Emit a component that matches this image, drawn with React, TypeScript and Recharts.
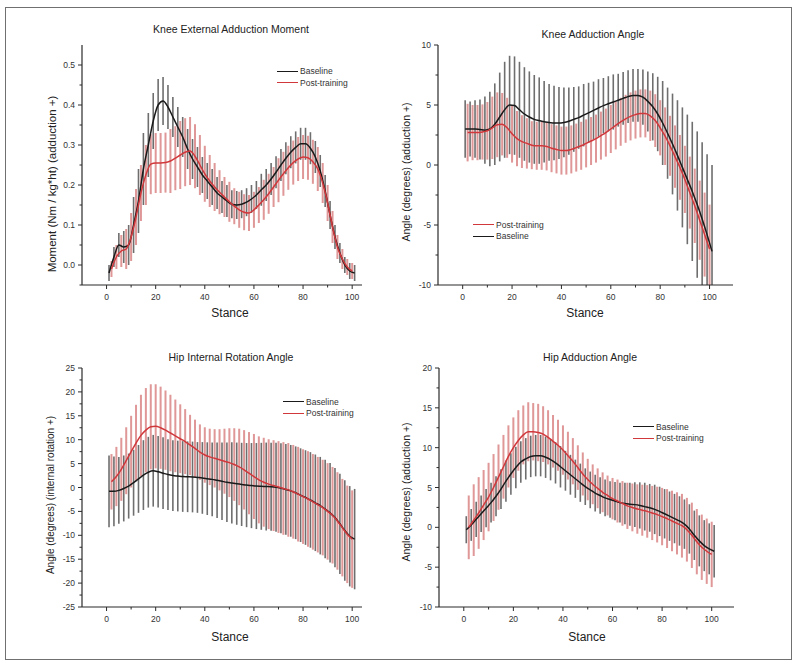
import React from 'react';
import { LineChart, Line, XAxis, YAxis, ErrorBar } from 'recharts';

const FONT = '"Liberation Sans", Arial, sans-serif';

// stance (% of stance phase): baseline bars sit on odd points, post-training on even points
const STANCE_ODD = [1, 3, 5, 7, 9, 11, 13, 15, 17, 19, 21, 23, 25, 27, 29, 31, 33, 35, 37, 39, 41, 43, 45, 47, 49, 51, 53, 55, 57, 59, 61, 63, 65, 67, 69, 71, 73, 75, 77, 79, 81, 83, 85, 87, 89, 91, 93, 95, 97, 99, 101];
const STANCE_EVEN = [2, 4, 6, 8, 10, 12, 14, 16, 18, 20, 22, 24, 26, 28, 30, 32, 34, 36, 38, 40, 42, 44, 46, 48, 50, 52, 54, 56, 58, 60, 62, 64, 66, 68, 70, 72, 74, 76, 78, 80, 82, 84, 86, 88, 90, 92, 94, 96, 98, 100];
const X_TICKS = [0, 10, 20, 30, 40, 50, 60, 70, 80, 90, 100];

// Knee external adduction moment
const KAM_BASE = [
  -0.02, 0.02, 0.05, 0.045, 0.05, 0.1, 0.16, 0.24, 0.3, 0.36,
  0.4, 0.41, 0.395, 0.37, 0.345, 0.32, 0.29, 0.265, 0.245, 0.225,
  0.21, 0.195, 0.18, 0.17, 0.16, 0.152, 0.15, 0.152, 0.157, 0.165,
  0.175, 0.188, 0.2, 0.215, 0.232, 0.25, 0.267, 0.282, 0.294, 0.303,
  0.303, 0.292, 0.27, 0.235, 0.185, 0.125, 0.07, 0.03, 0.0, -0.015, -0.02,
];
const KAM_BASE_SD = [
  0.02, 0.025, 0.03, 0.04, 0.05, 0.07, 0.08, 0.09, 0.08, 0.07,
  0.065, 0.06, 0.055, 0.05, 0.05, 0.05, 0.05, 0.05, 0.05, 0.045,
  0.045, 0.045, 0.04, 0.04, 0.04, 0.035, 0.035, 0.035, 0.035, 0.035,
  0.035, 0.04, 0.04, 0.04, 0.04, 0.04, 0.04, 0.04, 0.04, 0.04,
  0.04, 0.04, 0.04, 0.04, 0.04, 0.035, 0.03, 0.025, 0.02, 0.02, 0.02,
];
const KAM_POST = [
  -0.01, 0.02, 0.035, 0.04, 0.07, 0.12, 0.18, 0.225, 0.252, 0.255,
  0.255, 0.256, 0.26, 0.267, 0.275, 0.282, 0.285, 0.272, 0.25, 0.228,
  0.21, 0.195, 0.182, 0.17, 0.158, 0.147, 0.138, 0.132, 0.13, 0.138,
  0.15, 0.163, 0.178, 0.195, 0.212, 0.228, 0.243, 0.256, 0.265, 0.27,
  0.268, 0.258, 0.24, 0.205, 0.155, 0.095, 0.045, 0.015, -0.005, -0.015,
];
const KAM_POST_SD = [
  0.02, 0.03, 0.04, 0.05, 0.06, 0.07, 0.07, 0.075, 0.075, 0.075,
  0.075, 0.075, 0.08, 0.08, 0.085, 0.085, 0.085, 0.08, 0.075, 0.07,
  0.065, 0.06, 0.055, 0.05, 0.05, 0.045, 0.045, 0.045, 0.045, 0.045,
  0.045, 0.05, 0.05, 0.05, 0.055, 0.055, 0.055, 0.055, 0.055, 0.055,
  0.055, 0.055, 0.055, 0.05, 0.045, 0.04, 0.03, 0.025, 0.02, 0.02,
];

// Knee adduction angle
const KAA_BASE = [
  3.0, 3.0, 3.0, 2.95, 2.9, 3.0, 3.4, 4.0, 4.6, 5.0,
  4.95, 4.6, 4.25, 4.0, 3.8, 3.7, 3.6, 3.55, 3.5, 3.5,
  3.55, 3.65, 3.8, 3.95, 4.15, 4.35, 4.55, 4.75, 4.95, 5.1,
  5.25, 5.4, 5.55, 5.7, 5.8, 5.8, 5.65, 5.3, 4.85, 4.25,
  3.5, 2.65, 1.75, 0.8, -0.2, -1.2, -2.2, -3.3, -4.5, -5.8, -7.2,
];
const KAA_BASE_SD = [
  2.4, 2.3, 2.4, 2.5, 2.8, 3.1, 3.4, 3.7, 4.0, 4.1,
  4.1, 4.0, 3.9, 3.8, 3.7, 3.6, 3.4, 3.2, 3.1, 3.0,
  2.9, 2.8, 2.7, 2.6, 2.6, 2.5, 2.4, 2.4, 2.3, 2.3,
  2.3, 2.2, 2.2, 2.2, 2.2, 2.2, 2.3, 2.5, 2.8, 3.1,
  3.5, 3.8, 4.2, 4.6, 5.0, 5.4, 5.8, 6.1, 6.4, 6.7, 7.2,
];
const KAA_POST = [
  2.7, 2.7, 2.7, 2.75, 2.85, 3.1, 3.35, 3.4, 3.1, 2.6,
  2.2, 1.95, 1.8, 1.65, 1.6, 1.6, 1.55, 1.4, 1.3, 1.2,
  1.2, 1.3, 1.45, 1.6, 1.8, 2.0, 2.2, 2.45, 2.7, 3.0,
  3.3, 3.6, 3.85, 4.05, 4.2, 4.3, 4.3, 4.1, 3.7, 3.1,
  2.4, 1.6, 0.7, -0.2, -1.2, -2.3, -3.4, -4.6, -5.8, -7.0,
];
const KAA_POST_SD = [
  2.4, 2.3, 2.3, 2.3, 2.4, 2.6, 2.7, 2.6, 2.5, 2.4,
  2.3, 2.2, 2.1, 2.0, 2.0, 2.0, 2.0, 2.0, 2.0, 2.0,
  2.0, 2.0, 2.0, 2.0, 2.0, 2.0, 2.0, 2.0, 2.0, 2.0,
  2.0, 2.0, 2.0, 2.0, 2.0, 2.0, 2.0, 2.1, 2.2, 2.3,
  2.4, 2.5, 2.6, 2.7, 2.8, 3.0, 3.1, 3.3, 3.5, 3.7,
];

// Hip internal rotation angle
const HIR_BASE = [
  -0.8, -0.8, -0.6, -0.2, 0.3, 1.0, 1.8, 2.6, 3.2, 3.5,
  3.3, 3.0, 2.7, 2.5, 2.4, 2.3, 2.25, 2.2, 2.1, 2.0,
  1.85, 1.7, 1.5, 1.3, 1.1, 0.95, 0.8, 0.65, 0.5, 0.4,
  0.3, 0.25, 0.2, 0.15, 0.05, -0.15, -0.4, -0.7, -1.1, -1.6,
  -2.1, -2.6, -3.2, -3.8, -4.5, -5.3, -6.3, -7.6, -9.0, -10.2, -10.8,
];
const HIR_BASE_SD = [
  7.5, 7.3, 7.0, 6.9, 6.8, 6.9, 7.1, 7.3, 7.4, 7.5,
  7.5, 7.5, 7.4, 7.4, 7.4, 7.4, 7.4, 7.4, 7.4, 7.5,
  7.6, 7.7, 7.9, 8.1, 8.3, 8.5, 8.6, 8.7, 8.8, 8.9,
  9.0, 9.1, 9.2, 9.2, 9.3, 9.4, 9.5, 9.6, 9.7, 9.8,
  9.9, 10.0, 10.1, 10.2, 10.3, 10.4, 10.4, 10.5, 10.5, 10.5, 10.5,
];
const HIR_POST = [
  1.2, 2.3, 3.8, 5.6, 7.5, 9.3, 10.9, 12.0, 12.7, 12.8,
  12.5, 12.0, 11.4, 10.8, 10.2, 9.6, 8.9, 8.2, 7.4, 6.8,
  6.4, 6.1, 5.8, 5.5, 5.2, 4.8, 4.3, 3.7, 3.0, 2.3,
  1.6, 1.1, 0.7, 0.4, 0.1, -0.2, -0.5, -0.9, -1.4, -1.9,
  -2.4, -3.0, -3.6, -4.2, -5.0, -5.8, -7.0, -8.4, -9.8, -10.8,
];
const HIR_POST_SD = [
  5.8, 6.2, 6.6, 7.0, 7.5, 8.0, 8.5, 8.8, 8.9, 8.8,
  8.6, 8.3, 8.0, 7.6, 7.2, 6.8, 6.3, 6.0, 5.8, 5.8,
  5.9, 6.1, 6.4, 6.8, 7.2, 7.6, 8.0, 8.3, 8.6, 8.9,
  9.1, 9.3, 9.4, 9.5, 9.6, 9.7, 9.8, 9.8, 9.9, 9.9,
  10.0, 10.0, 10.0, 10.0, 10.1, 10.1, 10.2, 10.2, 10.2, 10.2,
];

// Hip adduction angle
const HAA_BASE = [
  -0.3, 0.3, 1.0, 1.7, 2.4, 3.1, 3.9, 4.8, 5.8, 6.7,
  7.5, 8.2, 8.6, 8.9, 9.0, 9.0, 8.8, 8.5, 8.1, 7.6,
  7.1, 6.6, 6.1, 5.6, 5.1, 4.7, 4.3, 4.0, 3.7, 3.5,
  3.3, 3.1, 3.0, 2.9, 2.85, 2.75, 2.6, 2.45, 2.25, 2.0,
  1.7, 1.4, 1.1, 0.8, 0.4, -0.2, -1.0, -1.7, -2.3, -2.7, -3.0,
];
const HAA_BASE_SD = [
  1.7, 2.0, 2.2, 2.3, 2.4, 2.5, 2.5, 2.5, 2.6, 2.6,
  2.6, 2.6, 2.6, 2.6, 2.6, 2.6, 2.6, 2.6, 2.6, 2.6,
  2.5, 2.5, 2.4, 2.4, 2.3, 2.3, 2.3, 2.3, 2.3, 2.3,
  2.4, 2.5, 2.6, 2.7, 2.8, 2.9, 3.0, 3.0, 3.1, 3.1,
  3.1, 3.1, 3.1, 3.1, 3.1, 3.1, 3.1, 3.2, 3.2, 3.2, 3.3,
];
const HAA_POST = [
  0.0, 0.9, 1.8, 2.8, 3.8, 5.0, 6.3, 7.6, 8.9, 10.0,
  10.9, 11.6, 12.0, 12.0, 11.9, 11.7, 11.3, 10.8, 10.3, 9.7,
  9.0, 8.3, 7.5, 6.7, 6.0, 5.4, 4.9, 4.4, 4.0, 3.6,
  3.3, 3.0, 2.7, 2.5, 2.3, 2.15, 2.0, 1.8, 1.6, 1.35,
  1.1, 0.8, 0.5, 0.2, -0.3, -1.0, -1.8, -2.5, -3.0, -3.4,
];
const HAA_POST_SD = [
  4.0, 4.5, 4.5, 4.4, 4.3, 4.2, 4.1, 4.0, 3.9, 3.8,
  3.8, 3.7, 3.7, 3.6, 3.6, 3.5, 3.4, 3.3, 3.2, 3.1,
  3.0, 2.9, 2.8, 2.7, 2.6, 2.5, 2.5, 2.5, 2.5, 2.6,
  2.7, 2.8, 2.9, 3.0, 3.1, 3.2, 3.3, 3.4, 3.5, 3.6,
  3.7, 3.8, 3.9, 4.0, 4.0, 4.1, 4.1, 4.1, 4.1, 4.1,
];

const KAM_Y_TICKS = [-0.05, 0, 0.05, 0.1, 0.15, 0.2, 0.25, 0.3, 0.35, 0.4, 0.45, 0.5];
const KAA_Y_TICKS = [-10, -7.5, -5, -2.5, 0, 2.5, 5, 7.5, 10];
const HIR_Y_TICKS = [-25, -22.5, -20, -17.5, -15, -12.5, -10, -7.5, -5, -2.5, 0, 2.5, 5, 7.5, 10, 12.5, 15, 17.5, 20, 22.5, 25];
const HAA_Y_TICKS = [-10, -7.5, -5, -2.5, 0, 2.5, 5, 7.5, 10, 12.5, 15, 17.5, 20];

// error bars are cut at the plot edges, as in the original figure
const toRows = (xs: number[], mean: number[], sd: number[], dom: [number, number]) =>
  xs.map((x, i) => ({
    x,
    y: mean[i],
    e: [Math.min(sd[i], mean[i] - dom[0]), Math.min(sd[i], dom[1] - mean[i])],
  }));

const isMajor = (v: number, step: number) => Math.abs(Math.round(v / step) * step - v) < 1e-9;

const INK = '#2a2a2a';

function XTick(props: any) {
  const { x, y, payload } = props;
  const v = payload.value;
  const major = v % 20 === 0;
  return (
    <g>
      <line x1={x} x2={x} y1={y} y2={y + (major ? 4 : 2.5)} stroke={INK} strokeWidth={1} />
      {major && (
        <text x={x} y={y + 15} textAnchor="middle" fontSize={8.5} fill="#333" fontFamily={FONT}>
          {v}
        </text>
      )}
    </g>
  );
}

function makeYTick(step: number, digits: number) {
  return (props: any) => {
    const { x, y, payload } = props;
    const v = payload.value;
    const major = isMajor(v, step);
    return (
      <g>
        <line x1={x - (major ? 4 : 2.5)} x2={x} y1={y} y2={y} stroke={INK} strokeWidth={1} />
        {major && (
          <text x={x - 7} y={y + 3} textAnchor="end" fontSize={8.5} fill="#333" fontFamily={FONT}>
            {v.toFixed(digits)}
          </text>
        )}
      </g>
    );
  };
}

type Row = { x: number; y: number; e: number[] };

type PanelProps = {
  left: number;
  top: number;
  margin: { top: number; right: number; bottom: number; left: number };
  xDomain: [number, number];
  yDomain: [number, number];
  yTicks: number[];
  yStep: number;
  digits: number;
  base: Row[];
  post: Row[];
  title: string;
  titlePos: [number, number];
  yLabel: string;
  yLabelPos: [number, number];
  yLabelSize: number;
  stancePos: [number, number];
  legendPos: [number, number];
  postFirst?: boolean;
};

function Legend2({ pos, postFirst }: { pos: [number, number]; postFirst?: boolean }) {
  const items = [
    { name: 'Baseline', color: '#1a1a1a' },
    { name: 'Post-training', color: '#d0383c' },
  ];
  if (postFirst) items.reverse();
  return (
    <div style={{ position: 'absolute', left: pos[0], top: pos[1] - 6, fontFamily: FONT, fontSize: 8.5, color: '#333' }}>
      {items.map((it) => (
        <div key={it.name} style={{ display: 'flex', alignItems: 'center', height: 11.5 }}>
          <span style={{ display: 'inline-block', width: 21, height: 0, borderTop: `1.5px solid ${it.color}`, marginRight: 2 }} />
          <span>{it.name}</span>
        </div>
      ))}
    </div>
  );
}

function Panel(p: PanelProps) {
  const yTick = makeYTick(p.yStep, p.digits);
  const text: React.CSSProperties = { position: 'absolute', fontFamily: FONT, color: '#222', whiteSpace: 'nowrap' };
  return (
    <div style={{ position: 'absolute', left: p.left, top: p.top, width: 400, height: 330 }}>
      <LineChart width={400} height={330} margin={p.margin}>
        <XAxis
          type="number"
          dataKey="x"
          domain={p.xDomain}
          ticks={X_TICKS}
          interval={0}
          allowDataOverflow
          tickSize={0}
          tickMargin={0}
          tickLine={false}
          axisLine={{ stroke: INK, strokeWidth: 1.2 }}
          tick={(props: any) => <XTick {...props} />}
          height={30}
        />
        <YAxis
          type="number"
          domain={p.yDomain}
          ticks={p.yTicks}
          interval={0}
          allowDataOverflow
          tickSize={0}
          tickMargin={0}
          tickLine={false}
          axisLine={{ stroke: INK, strokeWidth: 1.2 }}
          tick={yTick}
          width={30}
        />
        <Line data={p.base} dataKey="y" stroke="none" dot={false} activeDot={false} isAnimationActive={false} legendType="none">
          <ErrorBar dataKey="e" width={0} stroke="#6e6e6e" strokeWidth={1.6} direction="y" isAnimationActive={false} />
        </Line>
        <Line data={p.post} dataKey="y" stroke="none" dot={false} activeDot={false} isAnimationActive={false} legendType="none">
          <ErrorBar dataKey="e" width={0} stroke="#d47474" strokeOpacity={0.75} strokeWidth={2} direction="y" isAnimationActive={false} />
        </Line>
        <Line data={p.base} dataKey="y" type="monotone" stroke="#1a1a1a" strokeWidth={1.5} dot={false} activeDot={false} isAnimationActive={false} />
        <Line data={p.post} dataKey="y" type="monotone" stroke="#d0383c" strokeWidth={1.5} dot={false} activeDot={false} isAnimationActive={false} />
      </LineChart>
      <div style={{ ...text, left: p.titlePos[0], top: p.titlePos[1], fontSize: 10.5, transform: 'translate(-50%, -50%)' }}>{p.title}</div>
      <div style={{ ...text, left: p.yLabelPos[0], top: p.yLabelPos[1], fontSize: p.yLabelSize, transform: 'translate(-50%, -50%) rotate(-90deg)' }}>{p.yLabel}</div>
      <div style={{ ...text, left: p.stancePos[0], top: p.stancePos[1], fontSize: 12, transform: 'translate(-50%, -50%)' }}>Stance</div>
      <Legend2 pos={p.legendPos} postFirst={p.postFirst} />
    </div>
  );
}

const KAM_DOM: [number, number] = [-0.05, 0.55];
const KAA_DOM: [number, number] = [-10, 10];
const HIR_DOM: [number, number] = [-25, 25];
const HAA_DOM: [number, number] = [-10, 20];

export default function App() {
  return (
    <div style={{ position: 'relative', width: 800, height: 670, background: '#fff', overflow: 'hidden' }}>
      <style>{'body{margin:0}'}</style>
      <div style={{ position: 'absolute', left: 5, top: 7, width: 787, height: 653, border: '1.5px solid #707070', boxSizing: 'border-box' }} />
      <Panel
        left={0}
        top={0}
        margin={{ top: 45, right: 38, bottom: 15, left: 52 }}
        xDomain={[-10, 104]}
        yDomain={KAM_DOM}
        yTicks={KAM_Y_TICKS}
        yStep={0.1}
        digits={1}
        base={toRows(STANCE_ODD, KAM_BASE, KAM_BASE_SD, KAM_DOM)}
        post={toRows(STANCE_EVEN, KAM_POST, KAM_POST_SD, KAM_DOM)}
        title="Knee External Adduction Moment"
        titlePos={[231, 29]}
        yLabel="Moment (Nm / kg*ht) (adduction +)"
        yLabelPos={[52, 184]}
        yLabelSize={11.5}
        stancePos={[230, 313]}
        legendPos={[277, 71.5]}
      />
      <Panel
        left={400}
        top={0}
        margin={{ top: 45, right: 67, bottom: 15, left: 8 }}
        xDomain={[-10, 109.5]}
        yDomain={KAA_DOM}
        yTicks={KAA_Y_TICKS}
        yStep={5}
        digits={0}
        base={toRows(STANCE_ODD, KAA_BASE, KAA_BASE_SD, KAA_DOM)}
        post={toRows(STANCE_EVEN, KAA_POST, KAA_POST_SD, KAA_DOM)}
        title="Knee Adduction Angle"
        titlePos={[193, 34]}
        yLabel="Angle (degrees) (adduction +)"
        yLabelPos={[6, 172]}
        yLabelSize={10.5}
        stancePos={[185, 313]}
        legendPos={[73, 225]}
        postFirst
      />
      <Panel
        left={0}
        top={320}
        margin={{ top: 48, right: 38, bottom: 13, left: 52 }}
        xDomain={[-10, 104]}
        yDomain={HIR_DOM}
        yTicks={HIR_Y_TICKS}
        yStep={5}
        digits={0}
        base={toRows(STANCE_ODD, HIR_BASE, HIR_BASE_SD, HIR_DOM)}
        post={toRows(STANCE_EVEN, HIR_POST, HIR_POST_SD, HIR_DOM)}
        title="Hip Internal Rotation Angle"
        titlePos={[231, 37]}
        yLabel="Angle (degrees) (internal rotation +)"
        yLabelPos={[50, 175]}
        yLabelSize={10}
        stancePos={[230, 317]}
        legendPos={[283, 82]}
      />
      <Panel
        left={400}
        top={320}
        margin={{ top: 48, right: 66, bottom: 13, left: 9 }}
        xDomain={[-10, 109]}
        yDomain={HAA_DOM}
        yTicks={HAA_Y_TICKS}
        yStep={5}
        digits={0}
        base={toRows(STANCE_ODD, HAA_BASE, HAA_BASE_SD, HAA_DOM)}
        post={toRows(STANCE_EVEN, HAA_POST, HAA_POST_SD, HAA_DOM)}
        title="Hip Adduction Angle"
        titlePos={[190, 37]}
        yLabel="Angle (degrees) (adduction +)"
        yLabelPos={[6, 172]}
        yLabelSize={10.5}
        stancePos={[187, 317]}
        legendPos={[233, 107]}
      />
    </div>
  );
}
